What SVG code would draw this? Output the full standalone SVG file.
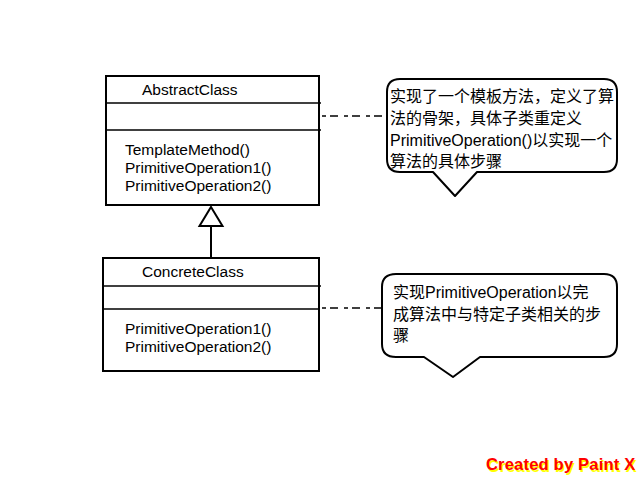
<svg xmlns="http://www.w3.org/2000/svg" width="640" height="480" viewBox="0 0 640 480">
<style>
.box{fill:#fff;stroke:#000;stroke-width:2}
.sep{stroke:#000;stroke-width:1.6;fill:none}
.cls{font-family:"Liberation Sans",Arial,sans-serif;font-size:15.5px;fill:#000}
.title{font-size:15.5px}
.note{font-family:"Liberation Sans","Noto Sans CJK SC",sans-serif;font-size:16px;fill:#000}
.bubble{fill:#fff;stroke:#000;stroke-width:2;stroke-linejoin:round}
.dash{stroke:#000;stroke-width:1.6;fill:none;stroke-dasharray:4 4 8 6}
.gen{stroke:#000;stroke-width:2;fill:none}
.credit{font-family:"Liberation Sans",Arial,sans-serif;font-size:16.5px;font-weight:bold;letter-spacing:0.2px}
</style>
<rect width="640" height="480" fill="#fff"/>
<g id="connectors">
<line class="gen" x1="211" y1="226" x2="211" y2="258"/>
<polygon points="211,207 222.5,226 199.5,226" fill="#fff" stroke="#000" stroke-width="2" stroke-linejoin="miter"/>
<line class="dash" x1="322" y1="116" x2="388" y2="116"/>
<line class="dash" x1="322" y1="308" x2="383" y2="308"/>
</g>
<g id="AbstractClass">
<rect class="box" x="106" y="76" width="213" height="129"/>
<line class="sep" x1="106" y1="103" x2="321" y2="103"/>
<line class="sep" x1="106" y1="130" x2="321" y2="130"/>
<text class="cls title" x="142" y="95">AbstractClass</text>
<text class="cls" x="125" y="155">TemplateMethod()</text>
<text class="cls" x="125" y="173">PrimitiveOperation1()</text>
<text class="cls" x="125" y="191">PrimitiveOperation2()</text>
</g>
<g id="ConcreteClass">
<rect class="box" x="103" y="258" width="216" height="113"/>
<line class="sep" x1="103" y1="286" x2="321" y2="286"/>
<line class="sep" x1="103" y1="309" x2="319" y2="309"/>
<text class="cls title" x="142" y="277">ConcreteClass</text>
<text class="cls" x="125" y="334">PrimitiveOperation1()</text>
<text class="cls" x="125" y="352">PrimitiveOperation2()</text>
</g>
<g id="note1">
<path class="bubble" d="M400,79 H604 Q617,79 617,92 V159 Q617,172 604,172 H477 L455,196 L433,172 H400 Q387,172 387,159 V92 Q387,79 400,79 Z"/>
<text class="note" x="390" y="102">实现了一个模板方法，定义了算</text>
<text class="note" x="390" y="124">法的骨架，具体子类重定义</text>
<text class="note" x="390" y="146">PrimitiveOperation()以实现一个</text>
<text class="note" x="390" y="167">算法的具体步骤</text>
</g>
<g id="note2">
<path class="bubble" d="M396,274 H604 Q617,274 617,287 V344 Q617,357 604,357 H480 L453,377 L424,357 H396 Q382,357 382,344 V287 Q382,274 396,274 Z"/>
<text class="note" x="393" y="298">实现PrimitiveOperation以完</text>
<text class="note" x="393" y="320">成算法中与特定子类相关的步</text>
<text class="note" x="393" y="341">骤</text>
</g>
<g id="credit">
<text class="credit" x="487.5" y="471.5" fill="#ffff00">Created by Paint X</text>
<text class="credit" x="486" y="470" fill="#ff0000">Created by Paint X</text>
</g>
</svg>
